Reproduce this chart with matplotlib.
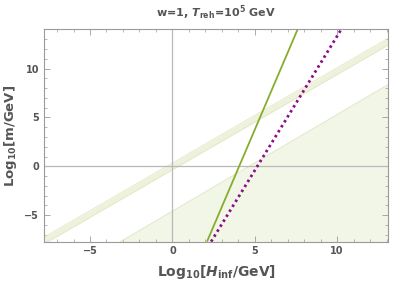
import numpy as np
import matplotlib.pyplot as plt
from matplotlib.ticker import MultipleLocator

# values (log10 H_inf, log10 m)
h_range = [-7.8, 13.1]
m_range = [-7.7, 14.0]

# solid green line: endpoints
green_h = [2.1, 7.6]
green_m = [-7.7, 14.0]

# dotted purple line: endpoints
purple_h = [2.35, 10.25]
purple_m = [-7.7, 14.0]

# pale band (centre line) and its half width
band_h = [-7.8, 13.1]
band_m = [-7.6, 12.75]
band_half = 0.35

# shaded lower region, upper edge
region_h = [-7.8, 13.1]
region_m = [-12.3, 8.35]

TEXT = "#555555"
FRAME = "#9a9a9a"


def main():
    fig = plt.figure(figsize=(3.99, 2.88), dpi=100)
    ax = fig.add_axes([0.110, 0.161, 0.863, 0.737])

    ax.fill_between(region_h, region_m, m_range[0] - 5, color="#f2f6e6", lw=0)
    ax.plot(region_h, region_m, color="#e3eace", lw=0.9)

    lo = [v - band_half for v in band_m]
    hi = [v + band_half for v in band_m]
    ax.fill_between(band_h, lo, hi, color="#eef2dc", lw=0)
    ax.plot(band_h, lo, color="#e2e9c6", lw=0.6)
    ax.plot(band_h, hi, color="#e2e9c6", lw=0.6)

    ax.axhline(0, color="#b8b8b8", lw=0.9)
    ax.axvline(0, color="#b8b8b8", lw=0.9)

    ax.plot(green_h, green_m, color="#86ad2f", lw=1.3, solid_capstyle="butt")
    ax.plot(purple_h, purple_m, color="#8b0a8b", lw=2.0,
            linestyle=(0, (0.9, 1.2)))

    ax.set_xlim(h_range)
    ax.set_ylim(m_range)

    ax.xaxis.set_major_locator(MultipleLocator(5))
    ax.xaxis.set_minor_locator(MultipleLocator(1))
    ax.yaxis.set_major_locator(MultipleLocator(5))
    ax.yaxis.set_minor_locator(MultipleLocator(1))
    ax.tick_params(which="both", direction="in", top=True, right=True,
                   color=FRAME, labelcolor=TEXT, labelsize=7)
    ax.tick_params(which="major", length=4, width=0.6)
    ax.tick_params(which="minor", length=2, width=0.5)
    for lab in ax.get_xticklabels() + ax.get_yticklabels():
        lab.set_fontweight("bold")
    for sp in ax.spines.values():
        sp.set_color(FRAME)
        sp.set_linewidth(0.8)

    ax.set_xlabel(r"$\mathbf{Log_{10}[}\boldsymbol{H}_{\mathbf{inf}}\mathbf{/GeV]}$",
                  fontsize=10, color=TEXT, labelpad=5)
    ax.set_ylabel(r"$\mathbf{Log_{10}[m/GeV]}$", fontsize=9.5, color=TEXT,
                  labelpad=4)
    ax.set_title(r"w=1, $\boldsymbol{T}_{\mathbf{reh}}$=10$^{\mathbf{5}}$ GeV",
                 fontsize=8, color=TEXT, fontweight="bold", pad=9)

    fig.savefig("out.png", dpi=100)


if __name__ == "__main__":
    main()
